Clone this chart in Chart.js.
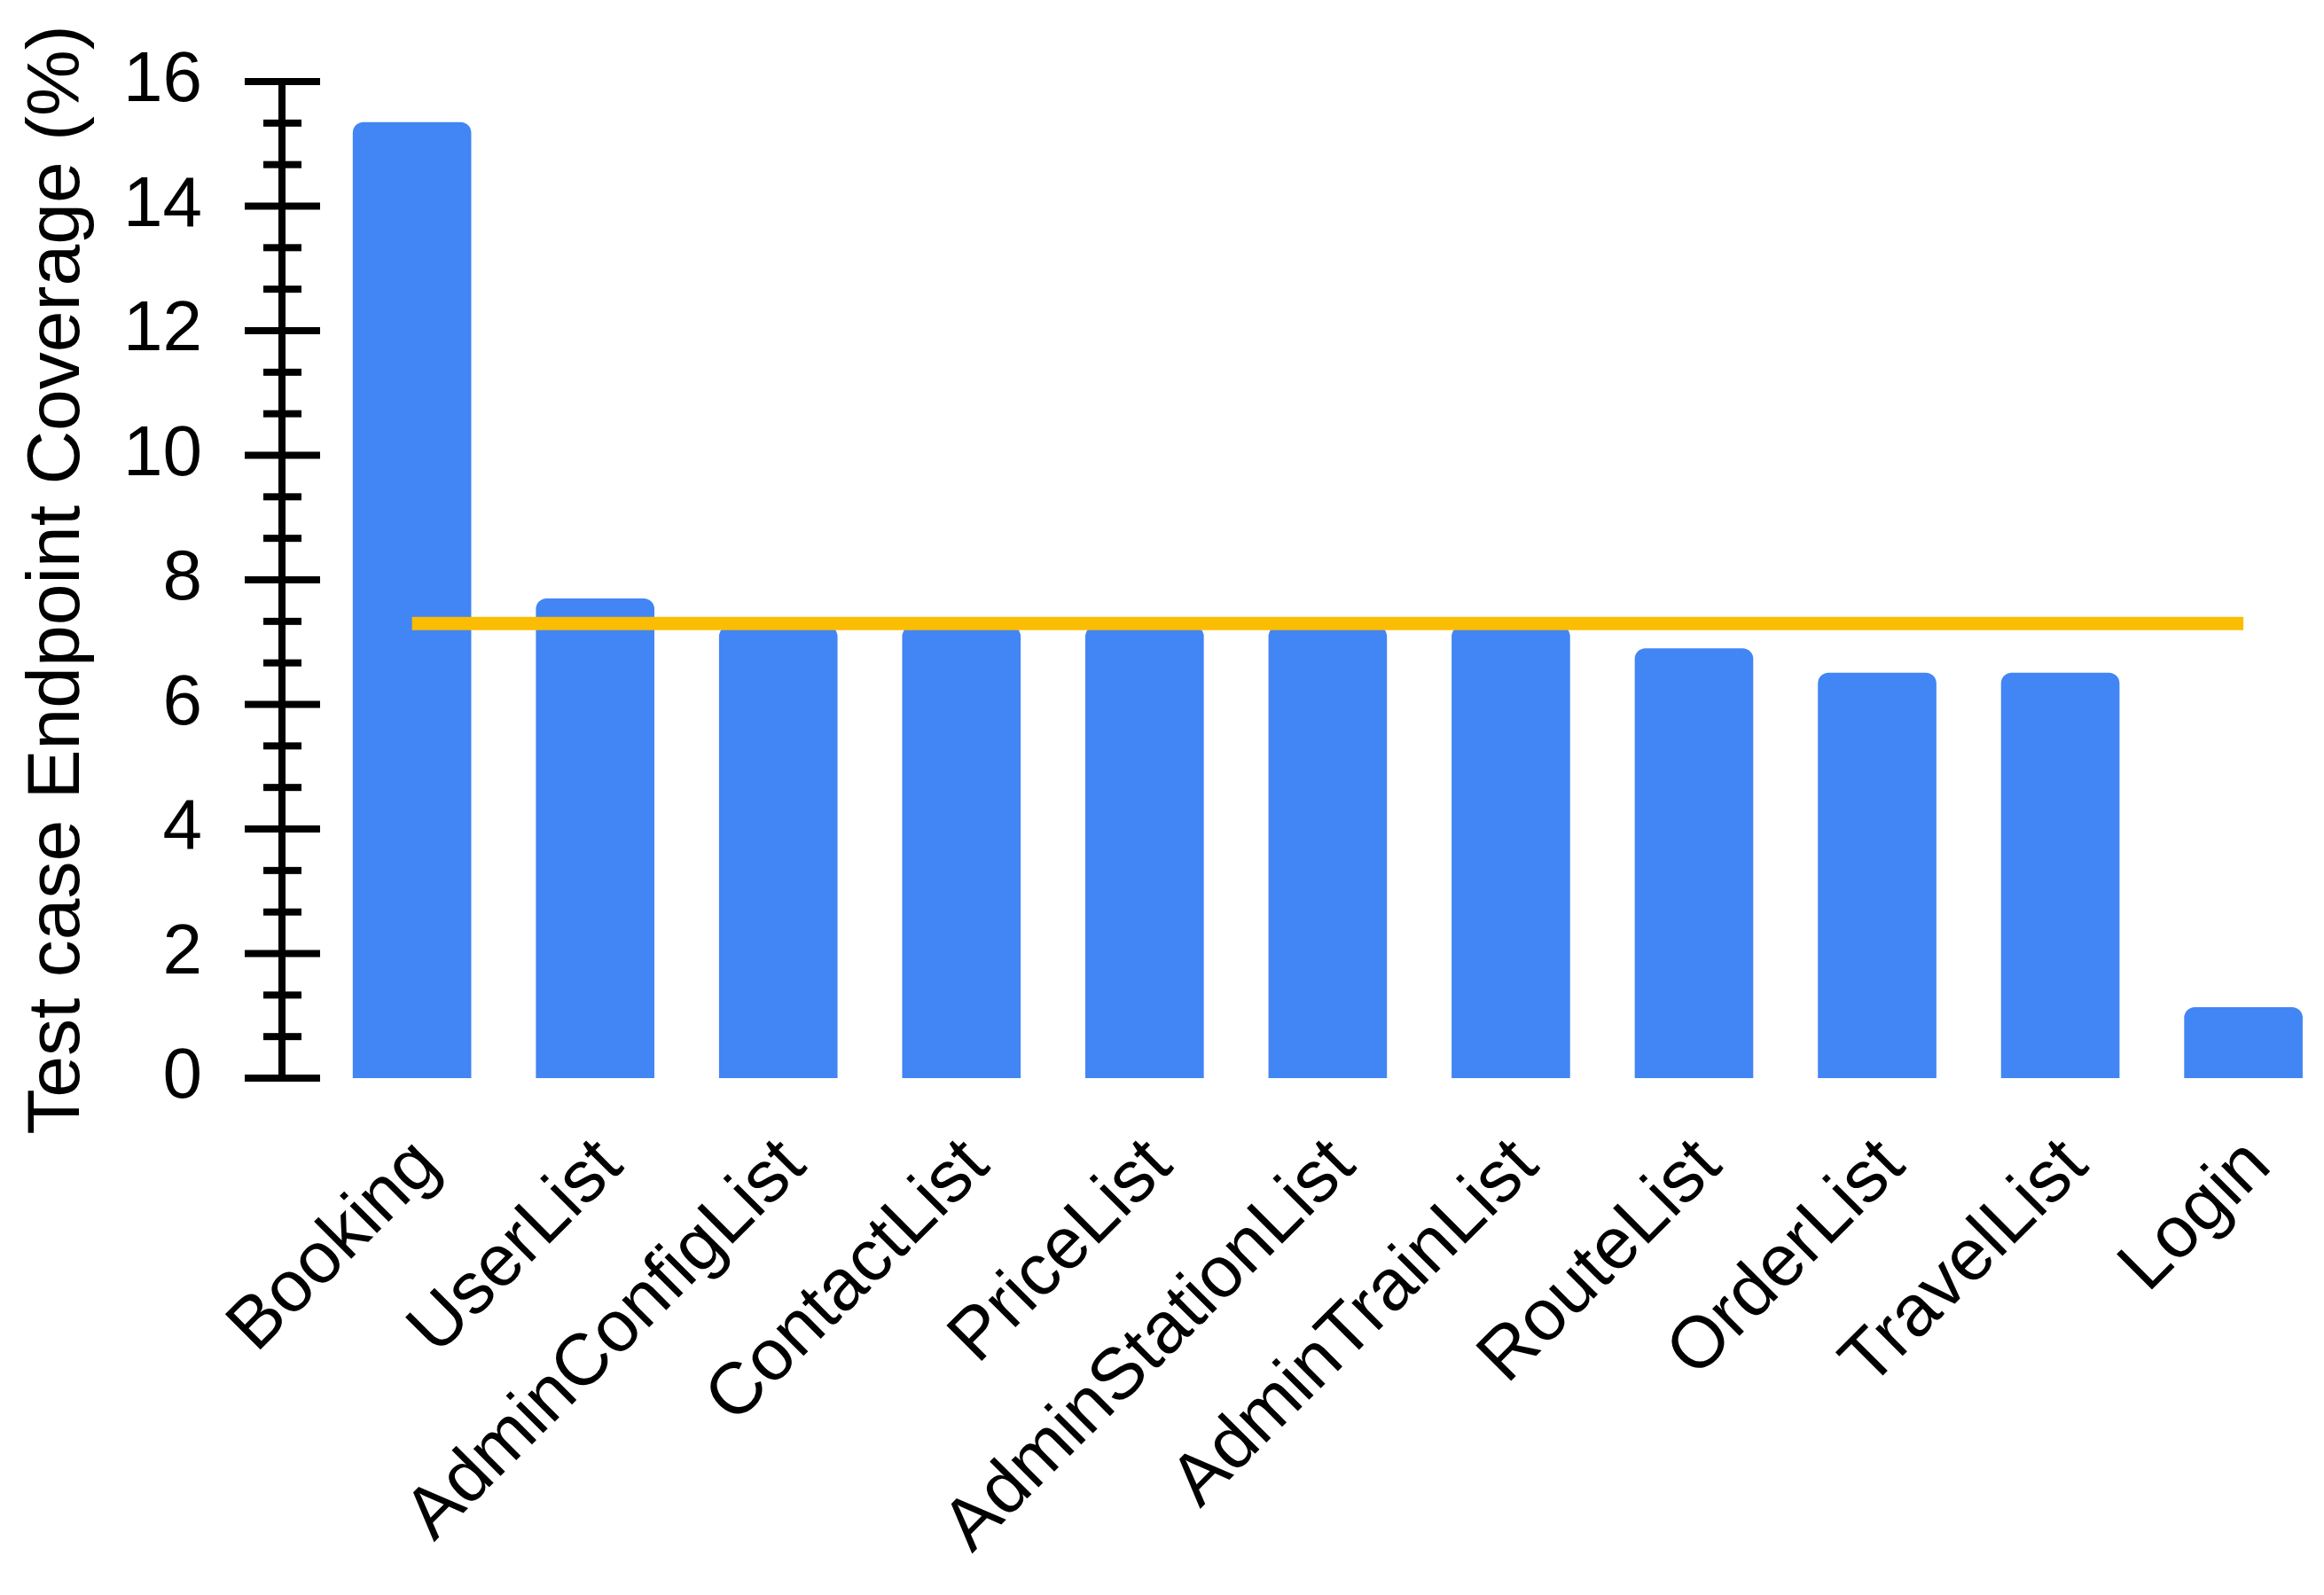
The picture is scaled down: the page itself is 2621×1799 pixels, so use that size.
<!DOCTYPE html>
<html>
<head>
<meta charset="utf-8">
<title>Test case Endpoint Coverage</title>
<script src="https://cdn.jsdelivr.net/npm/chart.js@4.4.1/dist/chart.umd.min.js"></script>
<style>
  html, body { margin: 0; padding: 0; background: #fff; overflow: hidden; }
  #wrap { width: 2621px; height: 1799px; position: relative; }
</style>
</head>
<body>
<div id="wrap"><canvas id="coverageChart"></canvas></div>
<script>
// categorias y valores
const endpoints = ['Booking', 'UserList', 'AdminConfigList', 'ContactList', 'PriceList',
    'AdminStationList', 'AdminTrainList', 'RouteList', 'OrderList', 'TravelList', 'Login'];
const coverage = [15.35, 7.70, 7.26, 7.26, 7.26, 7.26, 7.26, 6.90, 6.51, 6.51, 1.14];
const averageCoverage = [7.3, 7.3, 7.3, 7.3, 7.3, 7.3, 7.3, 7.3, 7.3, 7.3, 7.3];
const yTicks = [0, 2, 4, 6, 8, 10, 12, 14, 16];

const FONT = "'Liberation Sans', Arial, sans-serif";

// eje Y dibujado a mano: linea gruesa con marcas que cruzan el eje
const axisPlugin = {
    id: 'crossAxis',
    afterDraw(chart) {
        const ctx = chart.ctx;
        const y = chart.scales.y;
        const x0 = chart.chartArea.left;
        const top = y.getPixelForValue(yTicks[yTicks.length - 1]);
        const bottom = y.getPixelForValue(yTicks[0]);
        ctx.save();
        ctx.fillStyle = '#000';
        ctx.fillRect(x0 - 4, top - 4, 8, bottom - top + 8);
        yTicks.forEach((v, i) => {
            const py = y.getPixelForValue(v);
            ctx.fillRect(x0 - 42, py - 4, 85, 8);
            if (i < yTicks.length - 1) {
                const step = yTicks[i + 1] - v;
                [1 / 3, 2 / 3].forEach(f => {
                    const my = y.getPixelForValue(v + step * f);
                    ctx.fillRect(x0 - 21, my - 4, 43, 8);
                });
            }
        });
        ctx.restore();
    }
};

const ctx = document.getElementById('coverageChart').getContext('2d');
new Chart(ctx, {
    type: 'bar',
    data: {
        datasets: [{
            type: 'line',
            label: 'Average',
            data: averageCoverage.map((v, i) => ({ x: i, y: v })),
            borderColor: '#FBBC04',
            borderWidth: 15,
            borderCapStyle: 'butt',
            pointRadius: 0,
            fill: false,
            order: 0
        }, {
            label: 'Coverage',
            data: coverage.map((v, i) => ({ x: i, y: v })),
            backgroundColor: '#4285F4',
            borderRadius: { topLeft: 12, topRight: 12, bottomLeft: 0, bottomRight: 0 },
            borderSkipped: 'start',
            categoryPercentage: 1,
            barPercentage: 0.647,
            order: 1
        }]
    },
    options: {
        responsive: true,
        maintainAspectRatio: false,
        animation: false,
        devicePixelRatio: 1,
        layout: { padding: { top: 92, left: 0, right: 0, bottom: 0 } },
        plugins: {
            legend: { display: false },
            tooltip: { enabled: false },
            title: { display: false }
        },
        scales: {
            x: {
                type: 'linear',
                min: -0.71,
                max: 10.44,
                offset: false,
                grid: { display: false, drawTicks: false, offset: false },
                border: { display: false },
                afterBuildTicks: scale => {
                    scale.ticks = endpoints.map((_, i) => ({ value: i }));
                },
                afterFit: scale => {
                    scale.height = 583;
                    scale.paddingLeft = 0;
                    scale.paddingRight = 0;
                },
                ticks: {
                    autoSkip: false,
                    minRotation: 45,
                    maxRotation: 45,
                    padding: 68,
                    labelOffset: 18,
                    color: '#000',
                    font: { family: FONT, size: 82, lineHeight: 0.6 },
                    callback: value => endpoints[value] ?? ''
                }
            },
            y: {
                min: 0,
                max: 16,
                grid: { display: false, drawTicks: false },
                border: { display: false },
                afterFit: scale => {
                    scale.width = 318;
                    scale.paddingTop = 0;
                    scale.paddingBottom = 0;
                },
                ticks: {
                    stepSize: 2,
                    padding: 90,
                    color: '#000',
                    font: { family: FONT, size: 80 }
                },
                title: {
                    display: true,
                    text: 'Test case Endpoint Coverage (%)',
                    color: '#000',
                    font: { family: FONT, size: 84 },
                    padding: { top: 15, bottom: 0 }
                }
            }
        }
    },
    plugins: [axisPlugin]
});
</script>
</body>
</html>
